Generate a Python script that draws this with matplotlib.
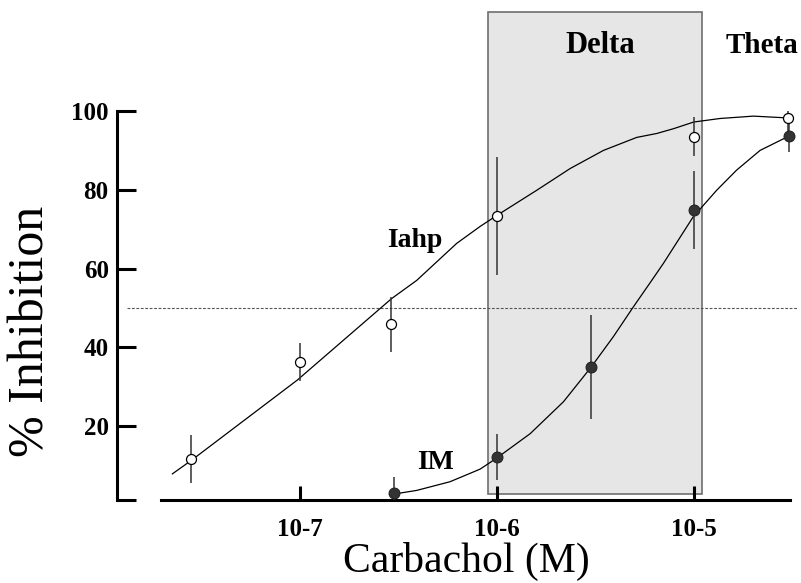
import numpy as np
import matplotlib
matplotlib.use("Agg")
import matplotlib.pyplot as plt
from matplotlib.patches import Rectangle

plt.rcParams['font.family'] = ['Liberation Serif', 'DejaVu Serif']

# carbachol concentration (M) and % inhibition, mean +/- error
iahp_conc = [2.8e-8, 1e-7, 2.9e-7, 1e-6, 1e-5, 3e-5]
iahp_inh = [11.7, 36.3, 45.9, 73.3, 93.5, 98.2]
iahp_err = [6.1, 4.8, 7.0, 14.9, 5.0, 3.7]

im_conc = [3e-7, 1e-6, 3e-6, 1e-5, 3.05e-5]
im_inh = [3.1, 12.2, 35.0, 74.9, 93.7]
im_err = [3.9, 5.9, 13.1, 9.8, 4.1]

# fitted curves (log10 conc, % inhibition)
iahp_fit_logc = [-7.648, -7.547, -7.014, -6.535, -6.408, -6.205, -6.086, -6.007,
                 -5.798, -5.629, -5.460, -5.291, -5.189, -5.105, -5.002, -4.868,
                 -4.699, -4.547]
iahp_fit_inh = [7.9, 11.5, 31.7, 52.4, 57.0, 66.4, 70.7, 73.3,
                79.9, 85.4, 90.0, 93.3, 94.3, 95.5, 97.2, 98.1,
                98.7, 98.3]

im_fit_logc = [-6.508, -6.408, -6.239, -6.086, -6.002, -5.832, -5.663, -5.524,
               -5.410, -5.308, -5.215, -5.156, -5.005, -4.885, -4.784, -4.665,
               -4.516]
im_fit_inh = [2.9, 3.7, 5.9, 9.1, 11.9, 18.1, 26.2, 34.9,
              42.7, 50.3, 57.0, 61.3, 73.1, 79.9, 85.0, 90.0,
              93.7]

delta_range = [10**-6.047, 10**-4.961]
half_max = 50

xticks = [1e-7, 1e-6, 1e-5]
xtick_labels = ['10-7', '10-6', '10-5']
yticks = [20, 40, 60, 80, 100]

ybot = 1.27

fig = plt.figure(figsize=(8.01, 5.83), dpi=100)
ax = fig.add_axes([0.1461, 0.1424, 0.9863 - 0.1461, 0.8096 - 0.1424])
ax.set_xscale('log')
ax.set_xlim(10**-7.929, 10**-4.513)
ax.set_ylim(ybot, 100)

# shaded delta band, runs above the top of the axes
ax.add_patch(Rectangle((delta_range[0], 2.9), delta_range[1] - delta_range[0], 125.1 - 2.9,
                       facecolor='#e6e6e6', edgecolor='#6e6e6e', lw=1.2,
                       clip_on=False, zorder=0))

ax.axhline(half_max, xmin=0.015, xmax=1.01, color='#555555', lw=0.8,
           dashes=(2.5, 1.5), clip_on=False, zorder=1)

ax.plot(10**np.array(iahp_fit_logc), iahp_fit_inh, color='black', lw=0.9, zorder=2)
ax.plot(10**np.array(im_fit_logc), im_fit_inh, color='black', lw=0.9, zorder=2)

ax.errorbar(iahp_conc, iahp_inh, yerr=iahp_err, fmt='none', ecolor='#333333',
            elinewidth=1.1, capsize=0, zorder=3)
ax.errorbar(im_conc, im_inh, yerr=im_err, fmt='none', ecolor='#333333',
            elinewidth=1.1, capsize=0, zorder=3)

ax.plot(iahp_conc, iahp_inh, 'o', ms=7.2, mfc='white', mec='black', mew=0.9,
        zorder=4, clip_on=False)
ax.plot(im_conc, im_inh, 'o', ms=7.8, mfc='#333333', mec='#222222', mew=0.8,
        zorder=4, clip_on=False)

ax.text(10**-6.416, 67.2, 'Iahp', fontsize=20, fontweight='bold', ha='center', va='center')
ax.text(10**-6.31, 10.9, 'IM', fontsize=20, fontweight='bold', ha='center', va='center')
ax.text(10**-5.477, 116.7, 'Delta', fontsize=22, fontweight='bold', ha='center', va='center')
ax.text(10**-4.655, 116.7, 'Theta', fontsize=21, fontweight='bold', ha='center', va='center')

for s in ['top', 'right']:
    ax.spines[s].set_visible(False)
for s in ['left', 'bottom']:
    ax.spines[s].set_linewidth(2.2)
ax.spines['bottom'].set_bounds(10**-7.706, 10**-4.513)

ax.set_xticks(xticks)
ax.set_xticklabels(xtick_labels)
ax.xaxis.set_minor_locator(matplotlib.ticker.NullLocator())
ax.set_yticks([ybot] + yticks)
ax.set_yticklabels([''] + [str(v) for v in yticks])
ax.tick_params(axis='x', direction='in', length=10, width=2.2, pad=13,
               labelsize=18)
ax.tick_params(axis='y', direction='in', length=14, width=2.2, pad=6,
               labelsize=18)
for lab in ax.get_xticklabels() + ax.get_yticklabels():
    lab.set_fontweight('bold')

fig.text(31 / 801, 1 - 331 / 583, '% Inhibition', rotation=90, fontsize=36,
         ha='center', va='center')
fig.text(466 / 801, 1 - 561 / 583, 'Carbachol (M)', fontsize=30,
         ha='center', va='center')

fig.savefig('out.png', dpi=100)
